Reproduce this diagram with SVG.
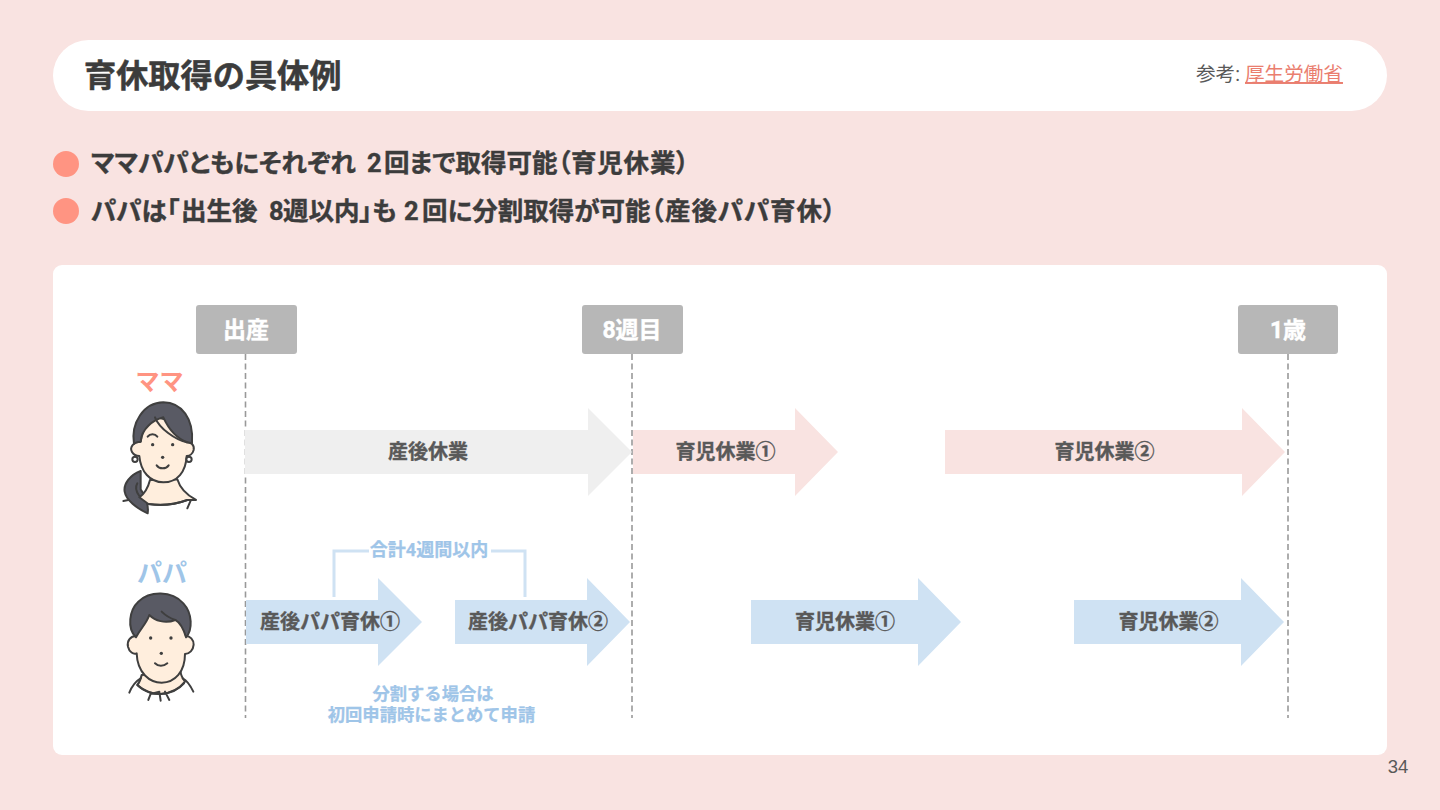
<svg xmlns="http://www.w3.org/2000/svg" width="1440" height="810" viewBox="0 0 1440 810">
<style>
text{font-family:Roboto,"Noto Sans CJK JP","Liberation Sans",sans-serif;font-weight:700}
.t{font-size:32.200px;fill:#3c3c3c;stroke:#3c3c3c;stroke-width:.5}
.b{font-size:25.500px;fill:#3c3c3c;stroke:#3c3c3c;stroke-width:.4;font-feature-settings:"palt"}
.h{font-size:23px;fill:#fff;stroke:#fff;stroke-width:.4;text-anchor:middle}
.l{font-size:20px;fill:#595959;stroke:#595959;stroke-width:.35;text-anchor:middle}
.n{font-size:17.300px;fill:#9fc5e8;stroke:#9fc5e8;stroke-width:.25;text-anchor:middle}
.dash{stroke:#999;stroke-width:1.6;stroke-dasharray:6 3.5;fill:none}
.g{fill:#efefef}.p{fill:#f9e3e1}.c{fill:#cfe2f3}
.o{stroke:#3f3f3f;stroke-width:6;stroke-linecap:round;stroke-linejoin:round}
.hair{fill:#595a64}.skin{fill:#ffeedd}
</style>
<rect width="1440" height="810" fill="#f9e3e1"/>
<rect x="53" y="40" width="1334" height="71" rx="35.500" fill="#fff"/>
<text class="t" x="84" y="87">育休取得の具体例</text>
<text x="1196" y="81" style="font-weight:400;font-size:19.600px;fill:#595959">参考:</text>
<text x="1245" y="81" style="font-weight:400;font-size:19.600px;fill:#ea7e6f;text-decoration:underline">厚生労働省</text>
<circle cx="66" cy="164" r="13" fill="#ff9482"/>
<circle cx="66" cy="211" r="13" fill="#ff9482"/>
<text class="b" x="91" y="172">ママパパともにそれぞれ <tspan x="367">2</tspan><tspan x="384">回まで取得可能（</tspan><tspan x="571" letter-spacing=".8">育児休業）</tspan></text>
<text class="b" x="91" y="220">パパは「<tspan x="181">出生後</tspan> <tspan x="269">8</tspan><tspan x="283">週以内」も</tspan> <tspan x="404">2</tspan><tspan x="422">回に分割取得が可能（</tspan><tspan x="665" letter-spacing=".9">産後パパ育休）</tspan></text>
<rect x="53" y="265" width="1334" height="490" rx="9" fill="#fff"/>
<g id="connectors">
<path class="dash" d="M245.500 354V718M632 354V718M1288 354V718"/>
<path d="M334 597V551H369M491 551H525V597" fill="none" stroke="#cfe2f3" stroke-width="3"/>
</g>
<g id="milestone-birth"><rect x="196" y="305" width="101" height="49" rx="3" fill="#b7b7b7"/><text class="h" x="246" y="338">出産</text></g>
<g id="milestone-8w"><rect x="582" y="305" width="101" height="49" rx="3" fill="#b7b7b7"/><text class="h" x="632" y="338">8週目</text></g>
<g id="milestone-1y"><rect x="1238" y="305" width="100" height="49" rx="3" fill="#b7b7b7"/><text class="h" x="1288" y="338">1歳</text></g>
<g id="mama">
<text x="159.500" y="390" text-anchor="middle" font-size="24" fill="#ff9482">ママ</text>
<g transform="translate(100 360) scale(.3333)">
<path class="o hair" d="M122 333C90 345 70 372 74 395C78 420 110 445 143 460C147 435 135 405 122 388Z"/>
<path class="o skin" d="M150 360C145 380 135 400 118 412L145 432C190 438 230 432 262 420L288 420C260 405 240 385 232 358Z"/>
<path d="M70 423L85 420M145 432C185 438 230 432 262 420M262 445L272 422" fill="none" class="o"/>
<path d="M112 370C105 382 108 395 118 408" fill="none" class="o" stroke-width="4"/>
<path class="o skin" d="M122 245C100 245 88 262 96 276C102 286 112 288 118 288C122 335 150 367 190 367C232 367 258 335 260 288C268 288 278 282 281 270C284 255 272 245 260 247L240 190L165 170L130 200Z"/>
<circle class="o" cx="105" cy="298" r="8" fill="#fff" stroke-width="4"/><circle class="o" cx="267" cy="298" r="8" fill="#fff" stroke-width="4"/>
<path class="o hair" d="M122 245C112 245 105 248 102 252C92 190 130 128 190 127C245 128 282 175 276 250L262 247C230 235 205 205 190 172C160 180 125 205 122 245Z"/>
<path d="M165 172C178 205 225 240 262 247" fill="none" class="o" stroke-width="5"/>
<path d="M143 230C150 220 165 220 172 230" fill="none" class="o" stroke-width="5"/>
<circle cx="158" cy="254" r="5" fill="#3f3f3f"/><circle cx="218" cy="254" r="5" fill="#3f3f3f"/><circle cx="188" cy="292" r="5" fill="#3f3f3f"/>
<path d="M170 316C178 328 198 328 206 316" fill="none" class="o"/>
</g>
</g>
<g id="papa">
<text x="162" y="582" text-anchor="middle" font-size="25" fill="#9fc5e8">パパ</text>
<g transform="translate(100 550) scale(.3333)">
<path class="o skin" d="M125 375C122 390 118 398 112 405C135 425 160 432 182 432C210 430 235 420 255 395C248 385 242 375 242 365Z"/>
<path d="M88 428C95 410 105 395 122 385M280 425C272 408 262 392 248 385M112 405C135 428 165 433 182 432C210 430 235 420 252 400M145 450L152 432L178 425L182 452M195 425L208 450" fill="none" class="o"/>
<path class="o skin" d="M108 258C92 258 80 272 84 290C88 306 100 314 110 310C112 370 150 398 185 398C225 398 255 365 255 312C268 312 280 300 281 284C281 268 270 258 258 258L240 200L150 190L115 225Z"/>
<path class="o hair" d="M108 262C80 235 88 180 115 155C150 122 215 122 250 160C278 190 278 240 258 262C250 235 240 218 226 210C195 222 165 212 148 195C140 220 122 235 108 262Z"/>
<path d="M185 185C195 195 210 205 226 210" fill="none" class="o" stroke-width="5"/>
<circle cx="152" cy="264" r="5" fill="#3f3f3f"/><circle cx="213" cy="264" r="5" fill="#3f3f3f"/><circle cx="184" cy="310" r="5" fill="#3f3f3f"/>
<path d="M165 340C175 350 190 350 202 340" fill="none" class="o"/>
</g>
</g>
<g id="a-mama-postpartum"><path class="g" d="M245 430H588V408L632 452L588 496V474H245Z"/><text class="l" x="428" y="459">産後休業</text></g>
<g id="a-mama-ikuji1"><path class="p" d="M633 430H795V408L838 452L795 496V474H633Z"/><text class="l" x="725.500" y="459">育児休業①</text></g>
<g id="a-mama-ikuji2"><path class="p" d="M945 430H1242V408L1285 452L1242 496V474H945Z"/><text class="l" x="1104.500" y="459">育児休業②</text></g>
<g id="a-papa-san1"><path class="c" d="M246 600H378V578L422 622L378 666V644H246Z"/><text class="l" x="330" y="629">産後パパ育休①</text></g>
<g id="a-papa-san2"><path class="c" d="M455 600H587V578L630 622L587 666V644H455Z"/><text class="l" x="538" y="629">産後パパ育休②</text></g>
<g id="a-papa-ikuji1"><path class="c" d="M751 600H918V578L961 622L918 666V644H751Z"/><text class="l" x="845" y="629">育児休業①</text></g>
<g id="a-papa-ikuji2"><path class="c" d="M1074 600H1241V578L1284 622L1241 666V644H1074Z"/><text class="l" x="1168.500" y="629">育児休業②</text></g>
<text class="n" x="429" y="556" style="font-size:18px">合計4週間以内</text>
<text class="n" x="433" y="699.500">分割する場合は</text>
<text class="n" x="431.500" y="721">初回申請時にまとめて申請</text>
<text x="1398" y="772.500" text-anchor="middle" style="font-family:'Liberation Sans',sans-serif;font-weight:400;font-size:18.500px;fill:#595959">34</text>
</svg>
